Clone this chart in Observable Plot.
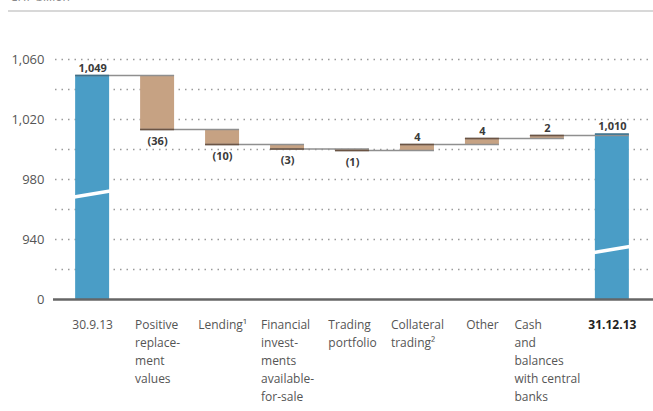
<!DOCTYPE html>
<html><head><meta charset="utf-8">
<script src="https://cdn.jsdelivr.net/npm/d3@7"></script>
<script src="https://cdn.jsdelivr.net/npm/@observablehq/plot@0.6"></script>
<style>
body{margin:0;background:#fff;font-family:"Open Sans",sans-serif;}
#wrap{position:relative;width:653px;height:411px;overflow:hidden;}
#unit{position:absolute;left:10px;top:-12px;font-size:12px;color:#888;}
#rule{position:absolute;left:8px;right:0;top:10px;height:2px;background:#d8d8d8;}
#chart{position:absolute;left:0;top:0;}
</style></head><body>
<div id="wrap"><div id="unit">CHF billion</div><div id="rule"></div><div id="chart"></div></div>
<script>
const categories = ["30.9.13","Positive replacement values","Lending¹","Financial investments available-for-sale","Trading portfolio","Collateral trading²","Other","Cash and balances with central banks","31.12.13"];
const tickLabels = ["30.9.13","Positive\nreplace-\nment\nvalues","Lending¹","Financial\ninvest-\nments\navailable-\nfor-sale","Trading\nportfolio","Collateral\ntrading²","Other","Cash\nand\nbalances\nwith central\nbanks","31.12.13"];
const kinds = ["total","delta","delta","delta","delta","delta","delta","delta","total"];
const values = [1049,-36,-10,-3,-1,4,4,2,1010];
const valueLabels = ["1,049","(36)","(10)","(3)","(1)","4","4","2","1,010"];
const axisBase = 900; // broken axis: this position is labelled "0"
const yTicks = [900,940,980,1020,1060];
const yTickLabels = ["0","940","980","1,020","1,060"];
const gridValues = [920,940,960,980,1000,1020,1040,1060];
const breakCategories = ["30.9.13","31.12.13"];
const breakFrom = [968,931];
const breakTo = [972,935];

const rows = [];
let running = 0;
categories.forEach((c,i) => {
  let start, end;
  if (kinds[i] === "total") { start = axisBase; end = values[i]; }
  else { start = running; end = running + values[i]; }
  running = end;
  rows.push({category:c, kind:kinds[i], start, end, value:values[i], label:valueLabels[i], tick:tickLabels[i]});
});
const breaks = breakCategories.map((c,i)=>({category:c, from:breakFrom[i], to:breakTo[i]}));

const BLUE = "#4a9dc6", BROWN = "#c6a283";

function overlay(...args) {
  const s = args.find(a => a && typeof a.x === "function" && typeof a.y === "function");
  const x = s.x, y = s.y, bw = x.bandwidth();
  const g = d3.create("svg:g");
  for (let i = 0; i < rows.length - 1; i++) {
    const lvl = y(rows[i].end);
    g.append("line").attr("x1", x(rows[i].category)).attr("x2", x(rows[i+1].category) + bw)
      .attr("y1", lvl).attr("y2", lvl).attr("stroke", "#8f8f8f").attr("stroke-width", 1.5);
  }
  rows.forEach(r => {
    g.append("line").attr("x1", x(r.category)).attr("x2", x(r.category) + bw)
      .attr("y1", y(r.end)).attr("y2", y(r.end)).attr("stroke", r.kind === "total" ? "#3d6f88" : "#6b5444").attr("stroke-width", 1.5);
  });
  breaks.forEach(b => {
    g.append("line").attr("x1", x(b.category) - 1).attr("x2", x(b.category) + bw + 1)
      .attr("y1", y(b.from)).attr("y2", y(b.to)).attr("stroke", "#fff").attr("stroke-width", 3.5);
  });
  return g.node();
}

const ctx = document.createElement("canvas").getContext("2d");
function blockWidth(t, bold) {
  ctx.font = (bold ? "bold " : "") + "12px 'Open Sans'";
  return d3.max(t.split("\n"), l => ctx.measureText(l).width);
}

const labelMarks = rows.map((r,i) => {
  const bold = i === rows.length - 1;
  return Plot.text([r], {x:"category", y:() => axisBase, text:"tick", textAnchor:"start", lineAnchor:"top",
    dx: -blockWidth(r.tick, bold)/2, dy: 17, lineHeight: 1.5, fontSize: 12,
    fontWeight: bold ? "bold" : "normal", fill: bold ? "#222" : "#555"});
});

const chart = Plot.plot({
  width: 653, height: 411,
  marginLeft: 55, marginRight: 4, marginTop: 29, marginBottom: 112,
  style: {fontFamily: "'Open Sans', sans-serif", fontSize: "13px", color: "#555", background: "transparent"},
  x: {domain: categories, paddingInner: 0.477, paddingOuter: 0.31, round: false, axis: null},
  y: {domain: [900, 1080], ticks: yTicks, tickFormat: d => yTickLabels[yTicks.indexOf(d)], tickSize: 0, tickPadding: 11, label: null},
  marks: [
    Plot.ruleY(gridValues, {stroke: "#9a9a9a", strokeWidth: 1.5, strokeDasharray: "1.5,5", insetRight: -4}),
    Plot.barY(rows.filter(r => r.kind === "total"), {x: "category", y1: "start", y2: "end", fill: BLUE}),
    Plot.barY(rows.filter(r => r.kind === "delta"), {x: "category", y1: "start", y2: "end", fill: BROWN}),
    overlay,
    Plot.ruleY([axisBase], {stroke: "#666", strokeWidth: 2.5, insetLeft: -2, insetRight: -4}),
    Plot.text(rows.filter(r => r.value >= 0), {x: "category", y: "end", text: "label", dy: -8, fontSize: 11, fontWeight: "bold", fill: "#3a3a3a"}),
    Plot.text(rows.filter(r => r.value < 0), {x: "category", y: "end", text: "label", dy: 11, fontSize: 11, fontWeight: "bold", fill: "#3a3a3a"}),
    ...labelMarks
  ]
});
document.getElementById("chart").appendChild(chart);
</script>
</body></html>
